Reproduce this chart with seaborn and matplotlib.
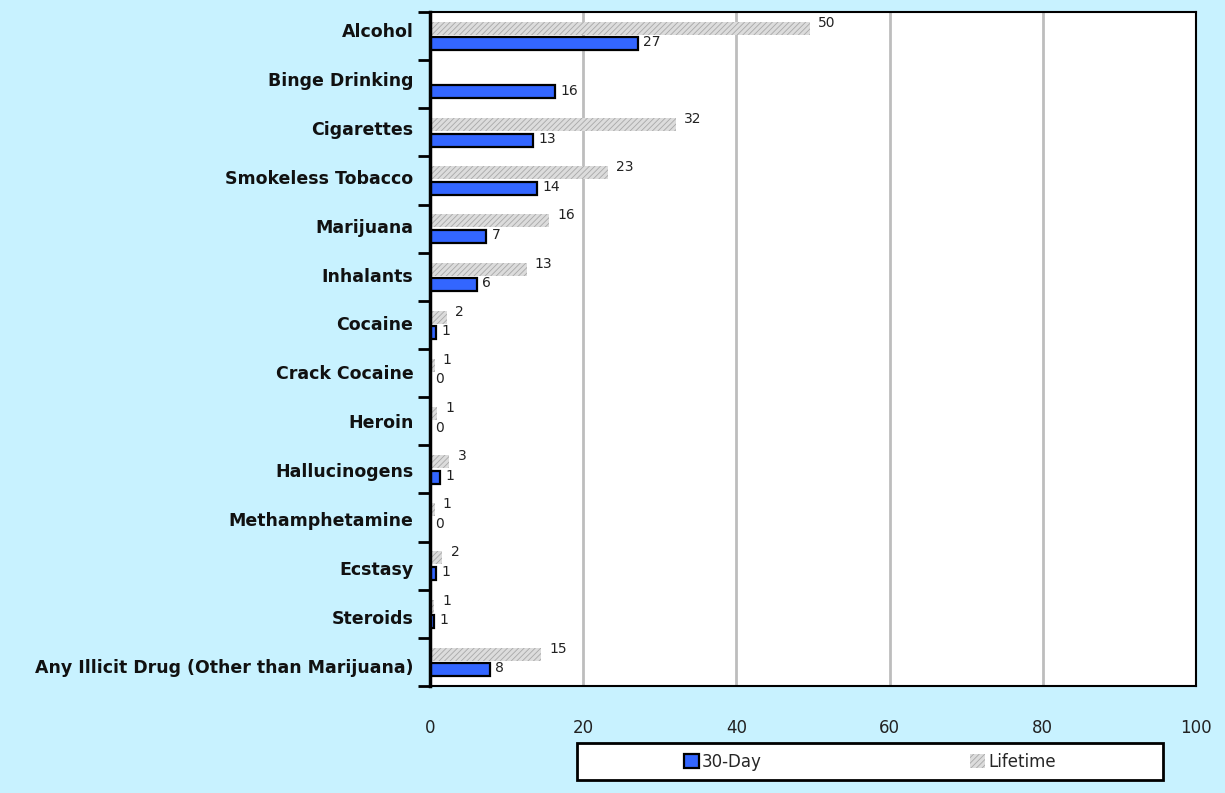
import matplotlib
matplotlib.use("Agg")
import matplotlib.pyplot as plt
import seaborn as sns
import pandas as pd
from matplotlib.patches import Rectangle, Patch

categories = ["Alcohol", "Binge Drinking", "Cigarettes", "Smokeless Tobacco", "Marijuana",
              "Inhalants", "Cocaine", "Crack Cocaine", "Heroin", "Hallucinogens",
              "Methamphetamine", "Ecstasy", "Steroids", "Any Illicit Drug (Other than Marijuana)"]
lifetime = [49.6, None, 32.1, 23.2, 15.5, 12.6, 2.2, 0.6, 0.9, 2.5, 0.6, 1.6, 0.5, 14.5]
day30 = [27.1, 16.3, 13.4, 14.0, 7.3, 6.1, 0.8, 0.0, 0.0, 1.3, 0.0, 0.8, 0.5, 7.8]
series = ["Lifetime", "30-Day"]
xticks = [0, 20, 40, 60, 80, 100]

rows = []
for c, lv, dv in zip(categories, lifetime, day30):
    rows.append({"cat": c, "series": "Lifetime", "val": 0.0 if lv is None else lv})
    rows.append({"cat": c, "series": "30-Day", "val": dv})
df = pd.DataFrame(rows)

sns.set_theme(style="white")
plt.rcParams["font.family"] = ["DejaVu Sans"]
plt.rcParams["hatch.linewidth"] = 0.6

BG = "#C8F2FF"
BLUE = "#3366FF"
fig = plt.figure(figsize=(12.25, 7.93), dpi=100, facecolor=BG)
ax = fig.add_axes([430/1225, 1-686/793, (1196-430)/1225, (686-12)/793])
ax.set_facecolor("white")

sns.barplot(data=df, y="cat", x="val", hue="series", hue_order=series, order=categories,
            orient="h", width=0.64, gap=0.16, ax=ax, legend=False, errorbar=None,
            palette={"Lifetime": "#d8d8d8", "30-Day": BLUE})

cont_life, cont_day = ax.containers[0], ax.containers[1]
for p in cont_life:
    p.set_facecolor("#dcdcdc")
    p.set_edgecolor("#a8a8a8")
    p.set_hatch("//////")
    p.set_linewidth(0)
for p in cont_day:
    p.set_facecolor(BLUE)
    p.set_edgecolor("black")
    p.set_linewidth(1.6)

def fmt(v):
    return "" if v is None else str(int(v + 0.5))

labs_l = ax.bar_label(cont_life, labels=[fmt(v) for v in lifetime], padding=6, fontsize=10, color="#222222")
labs_d = ax.bar_label(cont_day, labels=[fmt(v) for v in day30], padding=4, fontsize=10, color="#222222")
for t in labs_l:
    t.xyann = (6, 4)
for t in labs_d:
    t.xyann = (4, 1)

n = len(categories)
ax.set_xlim(0, 100)
ax.set_ylim(n - 0.5, -0.5)
ax.set_xticks(xticks)
ax.set_xticklabels([str(x) for x in xticks], fontsize=12, color="#222222")
ax.tick_params(axis="x", length=0, pad=24)
# category labels spread slightly wider than the bar groups, as in the original
unit = (686 - 12) / n
label_pos = [(30 + 48.9 * i - 12) / unit - 0.5 for i in range(n)]
ax.set_yticks(label_pos)
ax.set_yticklabels(categories, fontsize=12.5, fontweight="bold", color="#111111")
ax.tick_params(axis="y", which="major", length=0, pad=12)
ax.set_yticks([i - 0.5 for i in range(n + 1)], minor=True)
ax.tick_params(axis="y", which="minor", length=9, width=2, color="black", left=True)
ax.set_xlabel("")
ax.set_ylabel("")
for x in xticks[1:-1]:
    ax.axvline(x, color="#bdbdbd", lw=2, zorder=0)
for s in ax.spines.values():
    s.set_color("black")
    s.set_linewidth(1.5)
    s.set_visible(True)
ax.spines["left"].set_linewidth(2.5)

fig.patches.append(Rectangle((577/1225, 1-780/793), (1163-577)/1225, (780-743)/793,
                             transform=fig.transFigure, facecolor="white", edgecolor="black",
                             linewidth=2, zorder=1))
handles = [Patch(facecolor=BLUE, edgecolor="black", linewidth=1.6),
           Patch(facecolor="#dcdcdc", edgecolor="#a8a8a8", hatch="//////", linewidth=0)]
leg = fig.legend(handles, ["30-Day", "Lifetime"], loc="center", bbox_to_anchor=(870/1225, 1-762/793),
                 ncol=2, frameon=False, fontsize=12, handlelength=0.9, handleheight=0.9,
                 handletextpad=0.2, columnspacing=12.5)
leg.set_zorder(2)

fig.savefig("out.png", dpi=100, facecolor=BG)
